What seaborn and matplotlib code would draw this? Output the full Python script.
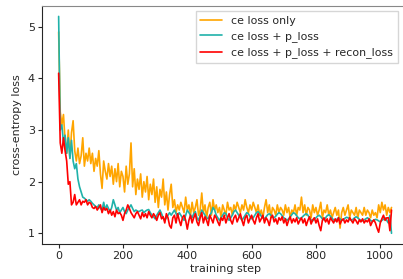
import matplotlib
matplotlib.use("Agg")
import matplotlib.pyplot as plt
import seaborn as sns
import numpy as np
import pandas as pd

sns.set_style("ticks")
plt.rcParams['font.family'] = ['DejaVu Sans']
plt.rcParams['font.size'] = 8.0

# training steps, one reading every 5 steps
steps = list(range(0, 1040, 5))

ce_only = [
    4.90, 3.35, 3.10, 3.30, 2.80, 2.55, 3.00, 2.45, 2.95, 3.18,
    2.60, 2.40, 2.65, 2.35, 2.50, 2.85, 2.30, 2.55, 2.40, 2.65,
    2.35, 2.55, 2.20, 2.45, 2.30, 2.60, 2.15, 1.87, 2.40, 2.20,
    2.05, 2.35, 2.10, 2.30, 1.95, 2.25, 2.00, 2.35, 1.90, 2.20,
    2.10, 1.80, 2.30, 1.95, 2.15, 2.75, 1.90, 2.25, 1.75, 2.05,
    1.85, 2.15, 1.70, 2.00, 1.80, 2.10, 1.65, 1.95, 1.75, 2.05,
    1.60, 1.90, 1.50, 1.85, 1.70, 2.05, 1.55, 1.80, 1.45, 1.75,
    1.95, 1.50, 1.65, 1.40, 1.55, 1.45, 1.60, 1.50, 1.40, 1.70,
    1.45, 1.55, 1.35, 1.60, 1.40, 1.50, 1.65, 1.35, 1.45, 1.78,
    1.40, 1.55, 1.30, 1.50, 1.60, 1.35, 1.65, 1.45, 1.55, 1.40,
    1.50, 1.30, 1.55, 1.45, 1.35, 1.60, 1.45, 1.50, 1.35, 1.55,
    1.45, 1.60, 1.50, 1.40, 1.55, 1.45, 1.65, 1.50, 1.40, 1.55,
    1.45, 1.60, 1.50, 1.40, 1.55, 1.35, 1.45, 1.30, 1.50, 1.65,
    1.40, 1.55, 1.30, 1.50, 1.45, 1.35, 1.55, 1.40, 1.50, 1.45,
    1.35, 1.55, 1.40, 1.50, 1.30, 1.45, 1.40, 1.55, 1.35, 1.50,
    1.45, 1.70, 1.40, 1.55, 1.35, 1.50, 1.45, 1.30, 1.55, 1.40,
    1.50, 1.35, 1.45, 1.60, 1.30, 1.45, 1.40, 1.55, 1.35, 1.45,
    1.30, 1.40, 1.50, 1.35, 1.45, 1.10, 1.40, 1.50, 1.35, 1.45,
    1.55, 1.30, 1.45, 1.40, 1.35, 1.50, 1.30, 1.45, 1.40, 1.35,
    1.50, 1.35, 1.45, 1.40, 1.30, 1.45, 1.35, 1.40, 1.30, 1.55,
    1.40, 1.60, 1.45, 1.55, 1.35, 1.50, 1.40, 1.50,
]

ce_p = [
    5.20, 3.00, 3.10, 2.75, 2.90, 2.55, 2.85, 2.45, 2.80, 2.40,
    2.25, 2.35, 2.05, 1.90, 1.80, 1.70, 1.68, 1.65, 1.62, 1.65,
    1.62, 1.58, 1.55, 1.52, 1.50, 1.55, 1.48, 1.45, 1.60, 1.45,
    1.55, 1.48, 1.42, 1.50, 1.65, 1.55, 1.45, 1.50, 1.40, 1.45,
    1.50, 1.42, 1.38, 1.45, 1.50, 1.55, 1.48, 1.42, 1.45, 1.43,
    1.42, 1.44, 1.45, 1.40, 1.43, 1.45, 1.46, 1.40, 1.35, 1.32,
    1.28, 1.35, 1.40, 1.45, 1.38, 1.30, 1.25, 1.30, 1.35, 1.40,
    1.35, 1.40, 1.45, 1.38, 1.33, 1.40, 1.35, 1.30, 1.25, 1.35,
    1.45, 1.40, 1.35, 1.30, 1.38, 1.42, 1.30, 1.25, 1.35, 1.45,
    1.40, 1.35, 1.30, 1.28, 1.35, 1.40, 1.50, 1.45, 1.35, 1.30,
    1.25, 1.30, 1.35, 1.40, 1.38, 1.30, 1.25, 1.30, 1.35, 1.42,
    1.45, 1.40, 1.35, 1.30, 1.25, 1.30, 1.35, 1.40, 1.38, 1.32,
    1.28, 1.30, 1.35, 1.40, 1.42, 1.38, 1.33, 1.30, 1.28, 1.32,
    1.36, 1.38, 1.35, 1.32, 1.30, 1.33, 1.37, 1.40, 1.38, 1.34,
    1.30, 1.28, 1.25, 1.28, 1.32, 1.36, 1.40, 1.38, 1.34, 1.30,
    1.28, 1.30, 1.33, 1.36, 1.38, 1.35, 1.30, 1.26, 1.24, 1.27,
    1.30, 1.33, 1.35, 1.32, 1.28, 1.26, 1.30, 1.34, 1.36, 1.33,
    1.29, 1.26, 1.24, 1.27, 1.30, 1.28, 1.25, 1.26, 1.29, 1.31,
    1.30, 1.27, 1.25, 1.27, 1.30, 1.32, 1.30, 1.27, 1.25, 1.24,
    1.26, 1.28, 1.30, 1.28, 1.25, 1.23, 1.25, 1.27, 1.26, 1.24,
    1.22, 1.25, 1.27, 1.30, 1.25, 1.20, 1.35, 1.00,
]

ce_p_recon = [
    4.10, 2.75, 2.55, 2.85, 2.60, 2.40, 1.95, 2.00, 1.55, 1.60,
    1.75, 1.55, 1.60, 1.65, 1.55, 1.62, 1.60, 1.65, 1.55, 1.60,
    1.58, 1.50, 1.48, 1.52, 1.45, 1.50, 1.55, 1.40, 1.50, 1.45,
    1.48, 1.38, 1.45, 1.35, 1.42, 1.32, 1.45, 1.38, 1.40, 1.35,
    1.25, 1.38, 1.45, 1.55, 1.48, 1.40, 1.35, 1.30, 1.38, 1.42,
    1.35, 1.28, 1.40, 1.32, 1.38, 1.30, 1.42, 1.35, 1.30, 1.38,
    1.33, 1.25, 1.35, 1.40, 1.28, 1.32, 1.20, 1.38, 1.30, 1.15,
    1.10, 1.30, 1.35, 1.20, 1.38, 1.25, 1.15, 1.30, 1.35, 1.25,
    1.08, 1.25, 1.35, 1.20, 1.30, 1.38, 1.22, 1.15, 1.30, 1.40,
    1.20, 1.32, 1.25, 1.15, 1.35, 1.28, 1.20, 1.35, 1.30, 1.22,
    1.15, 1.30, 1.25, 1.35, 1.20, 1.30, 1.38, 1.25, 1.18, 1.30,
    1.35, 1.22, 1.30, 1.38, 1.25, 1.15, 1.30, 1.35, 1.20, 1.28,
    1.35, 1.25, 1.18, 1.30, 1.38, 1.22, 1.28, 1.35, 1.20, 1.30,
    1.25, 1.15, 1.30, 1.35, 1.22, 1.28, 1.18, 1.30, 1.25, 1.32,
    1.20, 1.28, 1.15, 1.25, 1.32, 1.20, 1.28, 1.22, 1.30, 1.18,
    1.25, 1.30, 1.20, 1.28, 1.15, 1.25, 1.32, 1.18, 1.26, 1.30,
    1.20, 1.28, 1.15, 1.05, 1.25, 1.30, 1.22, 1.28, 1.18, 1.30,
    1.25, 1.20, 1.28, 1.22, 1.30, 1.18, 1.25, 1.28, 1.20, 1.26,
    1.22, 1.30, 1.25, 1.20, 1.28, 1.24, 1.18, 1.26, 1.22, 1.28,
    1.20, 1.25, 1.22, 1.28, 1.15, 1.22, 1.26, 1.20, 1.10, 1.02,
    1.20, 1.28, 1.35, 1.25, 1.30, 1.30, 1.05, 1.45,
]

labels = ['ce loss only', 'ce loss + p_loss', 'ce loss + p_loss + recon_loss']
colors = ['orange', 'lightseagreen', 'red']

df = pd.DataFrame({
    'step': steps * 3,
    'loss': ce_only + ce_p + ce_p_recon,
    'run': np.repeat(labels, len(steps)),
})

fig = plt.figure(figsize=(4.03, 2.79), dpi=100)
ax = fig.add_axes([0.104, 0.125, 0.913, 0.855])

sns.lineplot(data=df, x='step', y='loss', hue='run', hue_order=labels,
             palette=colors, linewidth=1.2, ax=ax)

ax.set_xlim(-52, 1092)
ax.set_ylim(0.79, 5.41)
ax.set_xticks([0, 200, 400, 600, 800, 1000])
ax.set_yticks([1, 2, 3, 4, 5])
ax.set_xlabel('training step', labelpad=2)
ax.set_ylabel('cross-entropy loss', labelpad=4)
ax.tick_params(labelsize=8.0, length=3, pad=2)
for s in ax.spines.values():
    s.set_linewidth(0.8)
ax.spines['top'].set_color('#888888')

leg = ax.legend(loc='upper right', bbox_to_anchor=(0.983, 1.002),
                fontsize=7.9, handlelength=2.0, frameon=True,
                fancybox=False, borderpad=0.45, labelspacing=0.5)
leg.get_frame().set_edgecolor('#cccccc')

fig.savefig('out.png', dpi=100)
